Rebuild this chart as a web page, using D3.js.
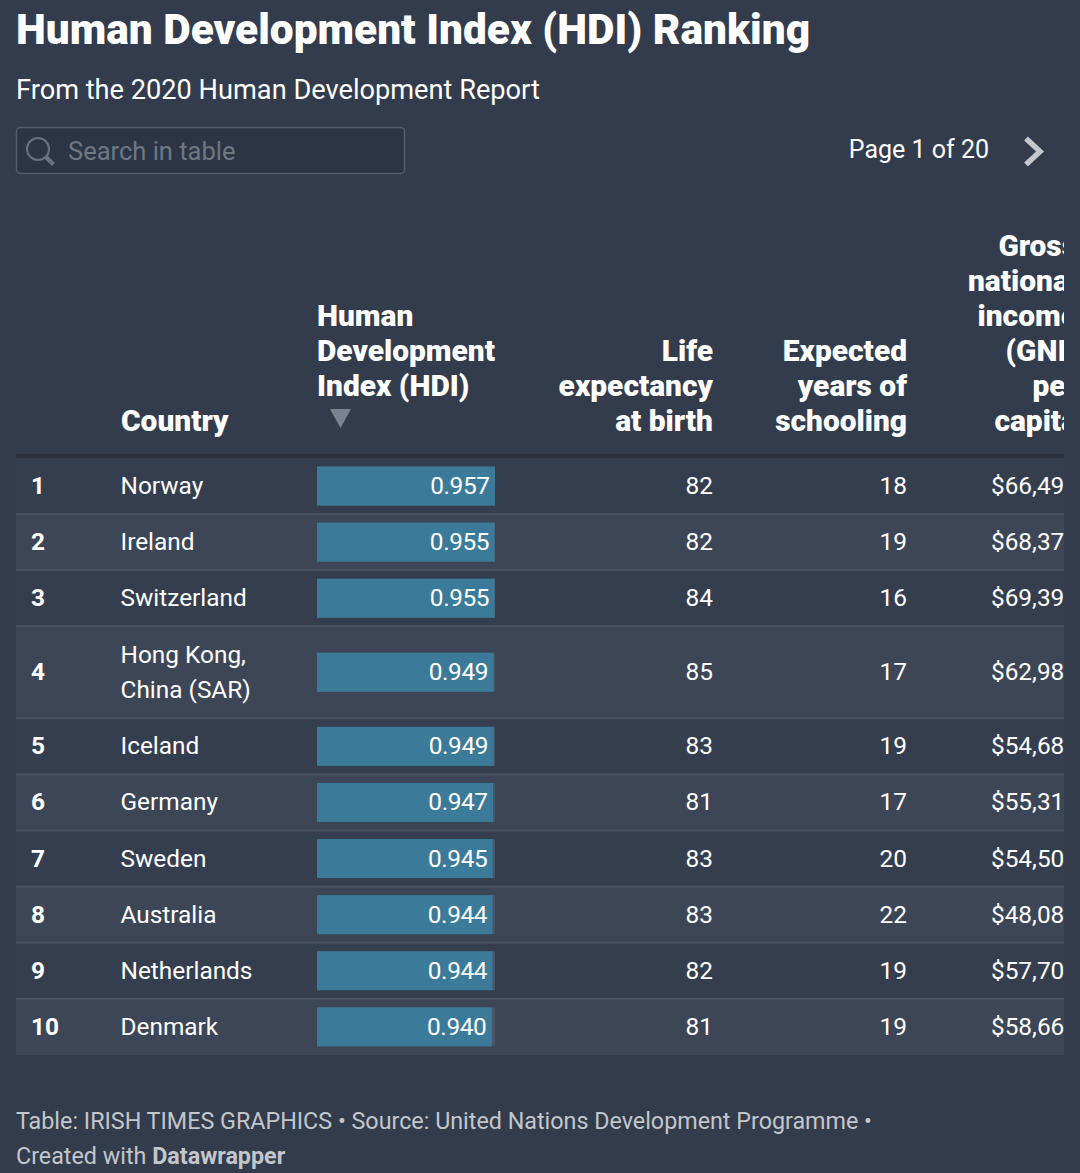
<!DOCTYPE html>
<html>
<head>
<meta charset="utf-8">
<script src="https://cdn.jsdelivr.net/npm/d3@7"></script>
<style>
  html, body { margin: 0; padding: 0; background: #323c4c; overflow: hidden; }
  text { font-family: Roboto, sans-serif; }
</style>
</head>
<body>
<div id="chart"></div>
<script>
const WIDTH = 1080;
const HEIGHT = 1173;

const ranks = [1, 2, 3, 4, 5, 6, 7, 8, 9, 10];
const countries = ['Norway', 'Ireland', 'Switzerland', 'Hong Kong,|China (SAR)', 'Iceland', 'Germany', 'Sweden', 'Australia', 'Netherlands', 'Denmark'];
const hdi = [0.957, 0.955, 0.955, 0.949, 0.949, 0.947, 0.945, 0.944, 0.944, 0.940];
const lifeExpectancy = [82, 82, 84, 85, 83, 81, 83, 83, 82, 81];
const schooling = [18, 19, 16, 17, 19, 17, 20, 22, 19, 19];
const gni = ['$66,494', '$68,371', '$69,394', '$62,985', '$54,682', '$55,314', '$54,508', '$48,085', '$57,707', '$58,662'];

const svg = d3.select('#chart')
    .append('svg')
        .attr('width', WIDTH)
        .attr('height', HEIGHT)
        .style('display', 'block');

const white = '#ffffff';
const fontRow = 24.4;

// title block
svg.append('text').attr('x', 16).attr('y', 44)
    .attr('fill', white).style('font-size', '42.4px').style('font-weight', 900)
    .text('Human Development Index (HDI) Ranking');
svg.append('text').attr('x', 16).attr('y', 99)
    .attr('fill', white).style('font-size', '27.2px')
    .text('From the 2020 Human Development Report');

// search box
svg.append('rect').attr('x', 16.5).attr('y', 127.5).attr('width', 388).attr('height', 46).attr('rx', 4)
    .attr('fill', '#2c3545').attr('stroke', '#555e6c').attr('stroke-width', 1.5);
svg.append('circle').attr('cx', 38).attr('cy', 149).attr('r', 11)
    .attr('fill', 'none').attr('stroke', '#697280').attr('stroke-width', 2);
svg.append('line').attr('x1', 46).attr('y1', 157).attr('x2', 53.5).attr('y2', 164.5)
    .attr('stroke', '#697280').attr('stroke-width', 4.5);
svg.append('text').attr('x', 68).attr('y', 160)
    .attr('fill', '#6f7783').style('font-size', '25.5px')
    .text('Search in table');

// pager
svg.append('text').attr('x', 989).attr('y', 158).attr('text-anchor', 'end')
    .attr('fill', white).style('font-size', '25px')
    .text('Page 1 of 20');
svg.append('path').attr('d', 'M1026,138.5 L1040,151.5 L1026,164.5')
    .attr('fill', 'none').attr('stroke', '#c4c7cc').attr('stroke-width', 5.5);

// clip the table so the last column is cut off like the original
svg.append('clipPath').attr('id', 'tableClip')
    .append('rect').attr('x', 16).attr('y', 200).attr('width', 1048).attr('height', 870);
const table = svg.append('g').attr('clip-path', 'url(#tableClip)');

// header
const headers = [
    {lines: ['Country'], x: 121, anchor: 'start'},
    {lines: ['Human', 'Development', 'Index (HDI)'], x: 317, anchor: 'start', bottom: 386},
    {lines: ['Life', 'expectancy', 'at birth'], x: 713, anchor: 'end'},
    {lines: ['Expected', 'years of', 'schooling'], x: 907, anchor: 'end'},
    {lines: ['Gross', 'national', 'income', '(GNI)', 'per', 'capita'], x: 1077, anchor: 'end'}
];
const headerLine = 35;
headers.forEach(h => {
    const last = h.bottom || 421;
    table.selectAll(null).data(h.lines).enter().append('text')
        .attr('x', h.x)
        .attr('y', (d, i) => last + 10 - (h.lines.length - 1 - i) * headerLine)
        .attr('text-anchor', h.anchor)
        .attr('fill', white)
        .style('font-size', '29.9px')
        .style('font-weight', 900)
        .text(d => d);
});
table.append('path').attr('d', 'M330,409 L351,409 L340.5,428 Z').attr('fill', '#7b838f');
table.append('rect').attr('x', 16).attr('y', 454).attr('width', 1048).attr('height', 4).attr('fill', '#2a303c');

// rows
const rowH = 56.1;
const tallH = 92;
const rows = [];
let y0 = 458;
ranks.forEach((r, i) => {
    const h = countries[i].includes('|') ? tallH : rowH;
    rows.push({rank: r, country: countries[i], hdi: hdi[i], life: lifeExpectancy[i], school: schooling[i], gni: gni[i], y: y0, h: h, i: i});
    y0 += h;
});

const barX = d3.scaleLinear().domain([0, d3.max(hdi)]).range([0, 178]);
const barLeft = 317;
const barH = 39;

const row = table.selectAll('.row').data(rows).enter().append('g')
    .attr('class', 'row')
    .attr('transform', d => `translate(0,${d.y})`);

row.append('rect').attr('x', 16).attr('width', 1048).attr('height', d => d.h)
    .attr('fill', d => d.i % 2 ? '#3c4656' : '#343e4e');
row.filter(d => d.i > 0).append('rect').attr('x', 16).attr('width', 1048).attr('y', -1).attr('height', 2)
    .attr('fill', '#485262');

row.append('rect').attr('x', barLeft).attr('y', d => (d.h - barH) / 2)
    .attr('width', barX(d3.max(hdi))).attr('height', barH).attr('fill', '#4a5565');
row.append('rect').attr('x', barLeft).attr('y', d => (d.h - barH) / 2)
    .attr('width', d => barX(d.hdi)).attr('height', barH).attr('fill', '#3b7a99');

const rowText = (x, anchor, fn, weight) => row.append('text')
    .attr('x', x)
    .attr('y', d => d.h / 2 + 8)
    .attr('text-anchor', anchor)
    .attr('fill', white)
    .style('font-size', fontRow + 'px')
    .style('font-weight', weight || 400)
    .text(fn);

rowText(31, 'start', d => d.rank, 700);
rowText(d => barLeft + barX(d.hdi) - 5.5, 'end', d => d.hdi.toFixed(3)).style('letter-spacing', '-0.4px');
rowText(713, 'end', d => d.life);
rowText(907, 'end', d => d.school);
rowText(1078, 'end', d => d.gni);

// country names, the long one wraps over two lines
row.each(function(d) {
    const parts = d.country.split('|');
    d3.select(this).selectAll('.name').data(parts).enter().append('text')
        .attr('class', 'name')
        .attr('x', 120.5)
        .attr('y', (p, i) => d.h / 2 + 8 + (i - (parts.length - 1) / 2) * 35)
        .attr('fill', white)
        .style('font-size', fontRow + 'px')
        .text(p => p);
});

// footer
const foot = '#c3c6cb';
svg.append('text').attr('x', 16).attr('y', 1129)
    .attr('fill', foot).style('font-size', '23.3px')
    .text('Table: IRISH TIMES GRAPHICS • Source: United Nations Development Programme •');
const created = svg.append('text').attr('x', 16).attr('y', 1164)
    .attr('fill', foot).style('font-size', '23.3px');
created.append('tspan').text('Created with ');
created.append('tspan').style('font-weight', 700).text('Datawrapper');
</script>
</body>
</html>
